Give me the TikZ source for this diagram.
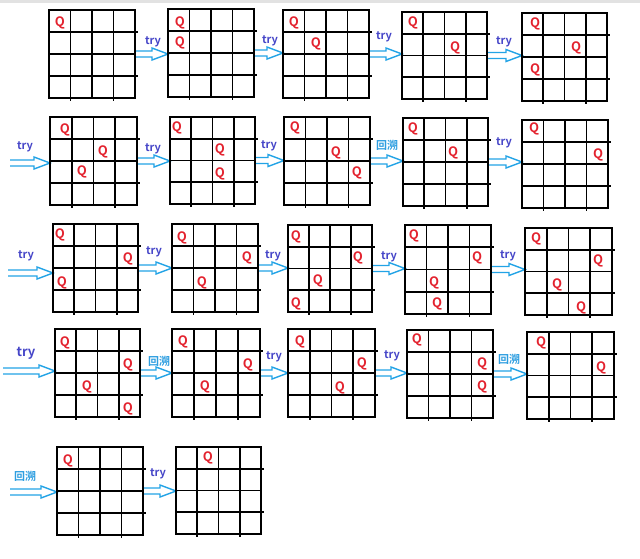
\documentclass[tikz,border=0pt]{standalone}
\usepackage{fontspec}
\newfontfamily\cjk[BoldFont={Noto Sans CJK SC Bold}]{Noto Sans CJK SC}
\usetikzlibrary{calc}
\pgfdeclarelayer{bg}
\pgfsetlayers{bg,main}
\definecolor{qred}{HTML}{E3222E}
\definecolor{tryblue}{HTML}{4646C8}
\definecolor{backblue}{HTML}{2E9EE0}
\definecolor{arrowblue}{HTML}{22A3E6}
\definecolor{topgray}{HTML}{E2E2E2}
\tikzset{
  boardframe/.style={draw=black, line width=1.8pt, inner sep=0pt, outer sep=0pt, rectangle},
  gridline/.style={draw=black, line width=1.8pt},
  hollow/.style={fill=white},
  hollowline/.style={draw=arrowblue, line width=1.4pt, line join=miter},
  queen/.style={text=qred, font=\cjk\bfseries\fontsize{13}{13}\selectfont, inner sep=0pt},
  trylab/.style={text=tryblue, font=\cjk\bfseries\fontsize{11}{11}\selectfont, inner sep=0pt},
  bigtry/.style={text=tryblue, font=\cjk\bfseries\fontsize{13}{13}\selectfont, inner sep=0pt},
  backlab/.style={text=backblue, font=\cjk\bfseries\fontsize{11}{11}\selectfont, inner sep=0pt},
}
% board: name x0 y0 x1 y1
\newcommand{\chessboard}[5]{%
  \node[boardframe, minimum width={(#4-#2)*1pt}, minimum height={(#5-#3)*1pt}] (#1) at ({(#2+#4)/2},{(#3+#5)/2}) {};
  \draw[gridline] ($(#1.north west)!0.25!(#1.south west)$) -- ($(#1.north east)!0.25!(#1.south east)+(3pt,0)$);
  \draw[gridline] ($(#1.north west)!0.5!(#1.south west)$) -- ($(#1.north east)!0.5!(#1.south east)$);
  \draw[gridline] ($(#1.north west)!0.75!(#1.south west)$) -- ($(#1.north east)!0.75!(#1.south east)+(3pt,0)$);
  \draw[gridline] ($(#1.north west)!0.25!(#1.north east)$) -- ($(#1.south west)!0.25!(#1.south east)+(0,-2.5pt)$);
  \draw[gridline] ($(#1.north west)!0.5!(#1.north east)$) -- ($(#1.south west)!0.5!(#1.south east)$);
  \draw[gridline] ($(#1.north west)!0.75!(#1.north east)$) -- ($(#1.south west)!0.75!(#1.south east)+(0,-2.5pt)$);
}
% hollow arrow from #1 to #2 (horizontal, at the y of #1)
\newcommand{\hollowarrow}[2]{%
  \begin{pgfonlayer}{bg}
  \path let \p1=(#1), \p2=(#2) in
    [hollow] (\x1,\y1+3pt) -- (\x2-16pt,\y1+3pt) -- (\x2-16pt,\y1+6pt) -- (\x2,\y1) -- (\x2-16pt,\y1-6pt) -- (\x2-16pt,\y1-3pt) -- (\x1,\y1-3pt) -- cycle;
  \path let \p1=(#1), \p2=(#2) in
    [hollowline] (\x1,\y1+3pt) -- (\x2-16pt,\y1+3pt) -- (\x2-16pt,\y1+6pt) -- (\x2,\y1) -- (\x2-16pt,\y1-6pt) -- (\x2-16pt,\y1-3pt) -- (\x1,\y1-3pt);
  \end{pgfonlayer}
}
\begin{document}
\begin{tikzpicture}[x=1pt,y=-1pt]
\useasboundingbox (0,0) rectangle (640,558);
\fill[topgray] (0,0) rectangle (640,2.5);

% ---- boards ----
\chessboard{b1}{49}{10}{135}{98}
\chessboard{b2}{168}{9}{254}{97}
\chessboard{b3}{283}{10}{369}{98}
\chessboard{b4}{402}{12}{487}{99}
\chessboard{b5}{522}{13}{607}{101}
\chessboard{b6}{50}{117}{137}{205}
\chessboard{b7}{170}{117}{255}{204}
\chessboard{b8}{284}{117}{370}{205}
\chessboard{b9}{403}{118}{488}{206}
\chessboard{b10}{522}{120}{608}{208}
\chessboard{b11}{53}{224}{138}{312}
\chessboard{b12}{172}{224}{258}{312}
\chessboard{b13}{288}{225}{372}{312}
\chessboard{b14}{405}{225}{491}{314}
\chessboard{b15}{525}{228}{612}{315}
\chessboard{b16}{55}{329}{140}{417}
\chessboard{b17}{172}{329}{260}{417}
\chessboard{b18}{288}{329}{375}{417}
\chessboard{b19}{407}{330}{493}{418}
\chessboard{b20}{527}{332}{614}{419}
\chessboard{b21}{57}{447}{143}{535}
\chessboard{b22}{176}{447}{261}{534}

% ---- queens ----
\node[queen] (q1a) at (60,23) {Q};
\node[queen] (q2a) at (180,23) {Q};
\node[queen] (q2b) at (180,43) {Q};
\node[queen] (q3a) at (294,23) {Q};
\node[queen] (q3b) at (316,44) {Q};
\node[queen] (q4a) at (413,23) {Q};
\node[queen] (q4b) at (455,48) {Q};
\node[queen] (q5a) at (535,24) {Q};
\node[queen] (q5b) at (576,48) {Q};
\node[queen] (q5c) at (535,70) {Q};
\node[queen] (q6a) at (65,130) {Q};
\node[queen] (q6b) at (103,152) {Q};
\node[queen] (q6c) at (82,172) {Q};
\node[queen] (q7a) at (177,128) {Q};
\node[queen] (q7b) at (220,150) {Q};
\node[queen] (q7c) at (220,174) {Q};
\node[queen] (q8a) at (295,128) {Q};
\node[queen] (q8b) at (336,153) {Q};
\node[queen] (q8c) at (357,173) {Q};
\node[queen] (q9a) at (413,129) {Q};
\node[queen] (q9b) at (453,153) {Q};
\node[queen] (q10a) at (534,129) {Q};
\node[queen] (q10b) at (598,155) {Q};
\node[queen] (q11a) at (60,235) {Q};
\node[queen] (q11b) at (128,259) {Q};
\node[queen] (q11c) at (62,283) {Q};
\node[queen] (q12a) at (182,238) {Q};
\node[queen] (q12b) at (247,258) {Q};
\node[queen] (q12c) at (202,283) {Q};
\node[queen] (q13a) at (296,237) {Q};
\node[queen] (q13b) at (358,258) {Q};
\node[queen] (q13c) at (318,281) {Q};
\node[queen] (q13d) at (296,304) {Q};
\node[queen] (q14a) at (414,236) {Q};
\node[queen] (q14b) at (477,258) {Q};
\node[queen] (q14c) at (434,283) {Q};
\node[queen] (q14d) at (437,304) {Q};
\node[queen] (q15a) at (536,239) {Q};
\node[queen] (q15b) at (598,261) {Q};
\node[queen] (q15c) at (557,285) {Q};
\node[queen] (q15d) at (581,308) {Q};
\node[queen] (q16a) at (65,343) {Q};
\node[queen] (q16b) at (128,365) {Q};
\node[queen] (q16c) at (87,387) {Q};
\node[queen] (q16d) at (128,409) {Q};
\node[queen] (q17a) at (183,342) {Q};
\node[queen] (q17b) at (248,365) {Q};
\node[queen] (q17c) at (205,387) {Q};
\node[queen] (q18a) at (300,342) {Q};
\node[queen] (q18b) at (362,364) {Q};
\node[queen] (q18c) at (340,388) {Q};
\node[queen] (q19a) at (417,340) {Q};
\node[queen] (q19b) at (482,364) {Q};
\node[queen] (q19c) at (482,387) {Q};
\node[queen] (q20a) at (541,343) {Q};
\node[queen] (q20b) at (601,368) {Q};
\node[queen] (q21a) at (68,461) {Q};
\node[queen] (q22a) at (208,458) {Q};

% ---- free ends of the incoming arrows ----
\coordinate (s2) at (10,163);
\coordinate (s3) at (8,273);
\coordinate (s4) at (3,371);
\coordinate (s5) at (10,492);

% ---- arrows ----
\hollowarrow{b1.east}{b1.east -| b2.west}
\hollowarrow{b2.east}{b2.east -| b3.west}
\hollowarrow{b3.east}{b3.east -| b4.west}
\hollowarrow{b4.east}{b4.east -| b5.west}
\hollowarrow{s2}{s2 -| b6.west}
\hollowarrow{b6.east}{b6.east -| b7.west}
\hollowarrow{b7.east}{b7.east -| b8.west}
\hollowarrow{b8.east}{b8.east -| b9.west}
\hollowarrow{b9.east}{b9.east -| b10.west}
\hollowarrow{s3}{s3 -| b11.west}
\hollowarrow{b11.east}{b11.east -| b12.west}
\hollowarrow{b12.east}{b12.east -| b13.west}
\hollowarrow{b13.east}{b13.east -| b14.west}
\hollowarrow{b14.east}{b14.east -| b15.west}
\hollowarrow{s4}{s4 -| b16.west}
\hollowarrow{b16.east}{b16.east -| b17.west}
\hollowarrow{b17.east}{b17.east -| b18.west}
\hollowarrow{b18.east}{b18.east -| b19.west}
\hollowarrow{b19.east}{b19.east -| b20.west}
\hollowarrow{s5}{s5 -| b21.west}
\hollowarrow{b21.east}{b21.east -| b22.west}

% ---- arrow labels ----
\node[trylab] (l1) at (153,42) {try};
\node[trylab] (l2) at (270,41) {try};
\node[trylab] (l3) at (384,37) {try};
\node[trylab] (l4) at (504,42) {try};
\node[trylab] (l5) at (25,147) {try};
\node[trylab] (l6) at (153,149) {try};
\node[trylab] (l7) at (269,146) {try};
\node[backlab] (l8) at (387,145) {回溯};
\node[trylab] (l9) at (504,143) {try};
\node[trylab] (l10) at (26,256) {try};
\node[trylab] (l11) at (154,252) {try};
\node[trylab] (l12) at (273,256) {try};
\node[trylab] (l13) at (389,257) {try};
\node[trylab] (l14) at (508,256) {try};
\node[bigtry] (l15) at (26,353) {try};
\node[backlab] (l16) at (159,361) {回溯};
\node[trylab] (l17) at (274,357) {try};
\node[trylab] (l18) at (392,356) {try};
\node[backlab] (l19) at (509,359) {回溯};
\node[backlab] (l20) at (25,476) {回溯};
\node[trylab] (l21) at (158,474) {try};
\end{tikzpicture}
\end{document}
